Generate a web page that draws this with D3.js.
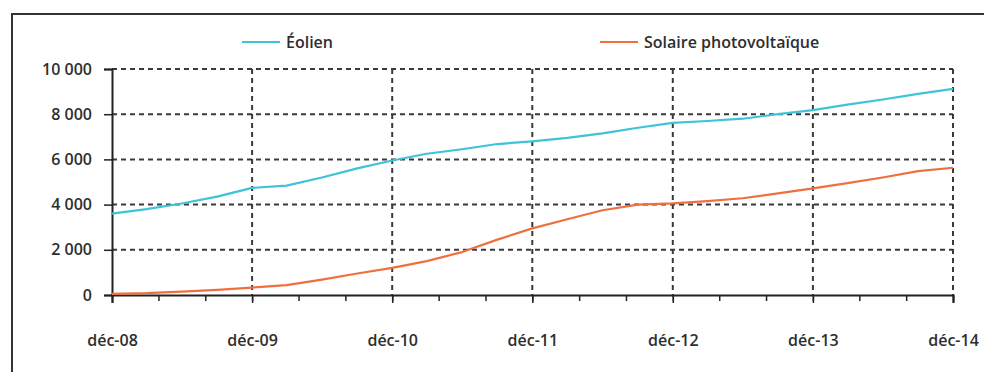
<!DOCTYPE html>
<html lang="fr">
<meta charset="utf-8">
<style>
    html, body { margin: 0; padding: 0; background: #fff; }
    svg { display: block; }
    text { font-family: "Open Sans", sans-serif; font-weight: 600; fill: #2e2e2e; }
</style>
<body>
<svg id="svg" width="984" height="372"></svg>
<script src="https://cdn.jsdelivr.net/npm/d3@7/dist/d3.min.js"></script>
<script>
// quarterly points, déc-08 .. déc-14
var months = ["2008-12","2009-03","2009-06","2009-09","2009-12","2010-03","2010-06","2010-09",
              "2010-12","2011-03","2011-06","2011-09","2011-12","2012-03","2012-06","2012-09",
              "2012-12","2013-03","2013-06","2013-09","2013-12","2014-03","2014-06","2014-09","2014-12"];
var eolien  = [3600,3800,4050,4350,4740,4840,5200,5600,5950,6250,6450,6680,6800,6950,7150,7400,
               7620,7700,7800,8000,8180,8420,8650,8900,9120];
var solaire = [50,80,150,230,330,440,680,950,1200,1500,1900,2450,2950,3350,3750,4000,
               4050,4150,4280,4500,4720,4950,5200,5480,5630];
var seriesNames = ["Éolien", "Solaire photovoltaïque"];
var seriesColors = ["#3ec3d9", "#ef6f3f"];
var xTickLabels = ["déc-08","déc-09","déc-10","déc-11","déc-12","déc-13","déc-14"];
var yTicks = [0, 2000, 4000, 6000, 8000, 10000];

var parse = d3.utcParse("%Y-%m");
var dates = months.map(parse);
var majorDates = dates.filter(d => d.getUTCMonth() === 11);

var svg = d3.select("svg"),
    margin = {top: 69, right: 31, bottom: 77, left: 112},
    width = 984 - margin.left - margin.right,
    height = 372 - margin.top - margin.bottom;

// outer frame (runs off the picture to the right and bottom)
svg.append("rect")
    .attr("x", 12).attr("y", 14)
    .attr("width", 1000).attr("height", 400)
    .attr("fill", "none").attr("stroke", "#333").attr("stroke-width", 2);

var g = svg.append("g").attr("transform", "translate(" + margin.left + "," + margin.top + ")");

var x = d3.scaleUtc()
    .domain(d3.extent(dates))
    .range([0, width]);

var y = d3.scaleLinear()
    .domain([0, 10000])
    .range([height, 0]);

var fmt = v => d3.format(",")(v).replace(/,/g, " ");

// grid
g.append("g")
    .selectAll("line").data(yTicks.slice(1)).enter().append("line")
    .attr("x1", 0).attr("x2", width)
    .attr("y1", d => y(d)).attr("y2", d => y(d))
    .attr("stroke", "#3a3a3a").attr("stroke-width", 2).attr("stroke-dasharray", "5,4");

g.append("g")
    .selectAll("line").data(majorDates.slice(1)).enter().append("line")
    .attr("x1", d => x(d)).attr("x2", d => x(d))
    .attr("y1", 0).attr("y2", height)
    .attr("stroke", "#3a3a3a").attr("stroke-width", 2).attr("stroke-dasharray", "5,4");

// y axis
var yAxis = g.append("g")
    .call(d3.axisLeft(y).tickValues(yTicks).tickFormat(fmt).tickSize(8).tickPadding(12));
yAxis.select(".domain").attr("stroke", "#222").attr("stroke-width", 2);
yAxis.selectAll(".tick line").attr("stroke", "#222").attr("stroke-width", 1.5);
yAxis.selectAll("text").attr("font-size", 16).attr("fill", "#2e2e2e");

// x axis, minor ticks every 4 months
var minorDates = d3.utcMonth.range(dates[0], d3.utcMonth.offset(dates[dates.length - 1], 1), 4);
var xMinor = g.append("g")
    .attr("transform", "translate(0," + height + ")")
    .call(d3.axisBottom(x).tickValues(minorDates).tickSize(6).tickFormat(""));
xMinor.select(".domain").remove();
xMinor.selectAll(".tick line").attr("stroke", "#222").attr("stroke-width", 1.5);

var xAxis = g.append("g")
    .attr("transform", "translate(0," + height + ")")
    .call(d3.axisBottom(x).tickValues(majorDates).tickSize(8).tickPadding(32)
        .tickFormat((d, i) => xTickLabels[i]));
xAxis.select(".domain").attr("stroke", "#222").attr("stroke-width", 2);
xAxis.selectAll(".tick line").attr("stroke", "#222").attr("stroke-width", 1.5);
xAxis.selectAll("text").attr("font-size", 16).attr("fill", "#2e2e2e");

// lines
var line = d3.line()
    .x((d, i) => x(dates[i]))
    .y(d => y(d));

[eolien, solaire].forEach(function(s, k) {
    g.append("path")
        .datum(s)
        .attr("fill", "none")
        .attr("stroke", seriesColors[k])
        .attr("stroke-width", 2.2)
        .attr("stroke-linejoin", "round")
        .attr("d", line);
});

// legend
var legendX = [242, 600];
var legend = svg.append("g").selectAll("g").data(seriesNames).enter().append("g")
    .attr("transform", (d, i) => "translate(" + legendX[i] + ",42)");
legend.append("line")
    .attr("x1", 0).attr("x2", 38)
    .attr("stroke", (d, i) => seriesColors[i]).attr("stroke-width", 2);
legend.append("text")
    .attr("x", 44).attr("dy", "0.35em")
    .attr("font-size", 16)
    .text(d => d);
</script>
</body>
</html>
